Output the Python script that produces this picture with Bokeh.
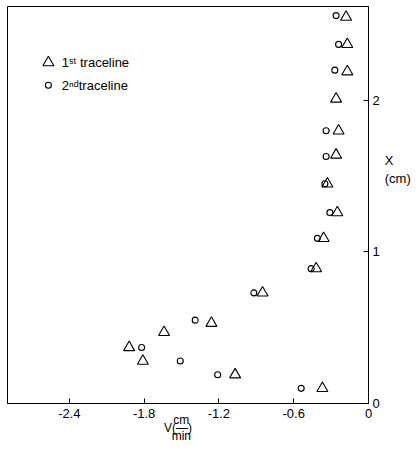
from bokeh.plotting import figure
from bokeh.models import Label, Range1d, FixedTicker
from bokeh.embed import file_html
from bokeh.resources import INLINE

# 1st traceline (triangles)
t1_v = [-0.18, -0.17, -0.17, -0.26, -0.24, -0.26, -0.33, -0.25, -0.36, -0.42,
        -0.85, -1.26, -1.07, -0.37, -1.64, -1.92, -1.81]
t1_x = [2.55, 2.37, 2.19, 2.01, 1.80, 1.64, 1.45, 1.26, 1.09, 0.89,
        0.73, 0.53, 0.19, 0.10, 0.47, 0.37, 0.28]
# 2nd traceline (circles)
t2_v = [-0.26, -0.24, -0.27, -0.34, -0.34, -0.35, -0.31, -0.41, -0.46, -0.92,
        -1.39, -1.21, -0.54, -1.82, -1.51]
t2_x = [2.56, 2.37, 2.20, 1.80, 1.63, 1.45, 1.26, 1.09, 0.89, 0.73,
        0.55, 0.19, 0.10, 0.37, 0.28]

x_ticks = [-2.4, -1.8, -1.2, -0.6, 0]
y_ticks = [0, 1, 2]
x_tick_labels = {-2.4: "-2.4", -1.8: "-1.8", -1.2: "-1.2", -0.6: "-0.6", 0: "0"}

FONT = "Liberation Sans"
W, H = 413, 446
NB = "\u00a0"

p = figure(width=W, height=H, output_backend="svg", toolbar_location=None,
           x_range=Range1d(-2.896, 0), y_range=Range1d(0, 2.62),
           y_axis_location="right",
           min_border_left=7, min_border_top=6, min_border_right=41, min_border_bottom=42)
p.grid.visible = False
p.outline_line_color = "black"
p.outline_line_width = 1
p.background_fill_color = "white"
p.border_fill_color = "white"

for ax in (p.xaxis[0], p.yaxis[0]):
    ax.major_tick_in = 5
    ax.major_tick_out = 0
    ax.minor_tick_line_color = None
    ax.axis_line_color = "black"
    ax.major_tick_line_color = "black"
    ax.major_label_text_font = FONT
    ax.major_label_text_font_size = "13px"
    ax.major_label_text_color = "black"
    ax.axis_label_text_font = FONT
    ax.axis_label_text_font_style = "normal"
    ax.axis_label_text_color = "black"

p.xaxis.ticker = FixedTicker(ticks=x_ticks)
p.xaxis.major_label_overrides = x_tick_labels
p.yaxis.ticker = FixedTicker(ticks=y_ticks)
p.xaxis.major_label_standoff = 5
p.yaxis.major_label_standoff = 4

# y axis label (blank lines lift it above the frame centre)
p.yaxis.axis_label = "X\n(cm)\n" + "\n".join([NB] * 4)
p.yaxis.axis_label_orientation = "horizontal"
p.yaxis.axis_label_text_font_size = "13px"
p.yaxis.axis_label_standoff = 2

# x axis label: V(cm/min) written as a stacked fraction
pad = NB * 6
p.xaxis.axis_label = (NB * 2 + "cm" + pad + "\n" +
                      "V(\u2014)" + pad + "\n" +
                      NB * 2 + "min" + pad)
p.xaxis.axis_label_text_font_size = "12px"
p.xaxis.axis_label_text_line_height = 0.6
p.xaxis.axis_label_standoff = -8

p.scatter(t1_v, t1_x, marker="triangle", size=11, fill_color=None,
          line_color="black", line_width=1.1)
p.scatter(t2_v, t2_x, marker="circle", size=6, fill_color=None,
          line_color="black", line_width=1.1)

# legend
p.scatter([-2.568], [2.25], marker="triangle", size=11, fill_color=None,
          line_color="black", line_width=1.1)
p.scatter([-2.568], [2.10], marker="circle", size=6, fill_color=None,
          line_color="black", line_width=1.1)
p.add_layout(Label(x=-2.46, y=2.25, text="1ˢᵗ traceline", text_font=FONT,
                   text_font_size="13px", text_baseline="middle", text_color="black"))
p.add_layout(Label(x=-2.46, y=2.10, text="2ⁿᵈtraceline", text_font=FONT,
                   text_font_size="13px", text_baseline="middle", text_color="black"))

open("out.html", "w").write(file_html(p, INLINE))
